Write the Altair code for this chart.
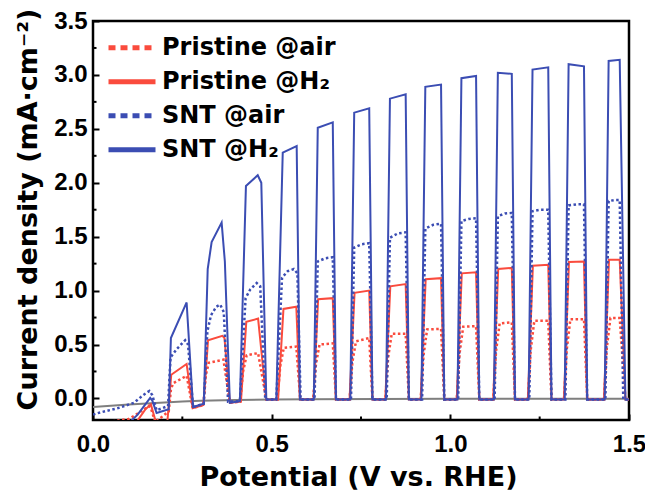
import altair as alt
import pandas as pd

# ---------------- data ----------------
SERIES = ["Pristine @air", "Pristine @H₂", "SNT @air", "SNT @H₂"]
COLORS = ["#FA4B3D", "#FA4B3D", "#3B4DB3", "#3B4DB3"]
LEGEND_DASHES = [[7, 5], [1, 0], [7, 5], [1, 0]]

X_TICKS = [0.0, 0.5, 1.0, 1.5]
X_MINOR = [0.25, 0.75, 1.25]
Y_TICKS = [0.0, 0.5, 1.0, 1.5, 2.0, 2.5, 3.0, 3.5]
Y_MINOR = [0.25, 0.75, 1.25, 1.75, 2.25, 2.75, 3.25]

# dark current (grey)
DARK_X = [0.0, 0.05, 0.1, 0.15, 0.2, 0.25, 0.3, 0.4, 0.5, 0.6, 0.8, 1.0, 1.5]
DARK_Y = [-0.08, -0.068, -0.057, -0.046, -0.037, -0.029, -0.022, -0.014, -0.009,
          -0.007, -0.005, -0.004, -0.003]

# SNT @H2 (blue solid)
SNT_H2_X = [0.090, 0.125, 0.160, 0.166, 0.178, 0.212,
            0.218, 0.262, 0.280, 0.310,
            0.321, 0.332, 0.360, 0.369, 0.383, 0.411,
            0.428, 0.461, 0.471, 0.485, 0.513,
            0.531, 0.570, 0.579, 0.618,
            0.629, 0.671, 0.680, 0.720,
            0.731, 0.773, 0.782, 0.820,
            0.831, 0.875, 0.884, 0.919,
            0.930, 0.974, 0.983, 1.020,
            1.031, 1.072, 1.081, 1.122,
            1.133, 1.172, 1.181, 1.219,
            1.230, 1.274, 1.283, 1.320,
            1.331, 1.374, 1.383, 1.432,
            1.443, 1.474, 1.490, 1.500]
SNT_H2_Y = [-0.26, -0.15, 0.005, -0.02, -0.135, -0.10,
            0.56, 0.89, -0.08, -0.05,
            1.20, 1.45, 1.63, 1.27, -0.04, -0.025,
            1.97, 2.07, 2.00, -0.01, -0.01,
            2.28, 2.34, -0.01, -0.01,
            2.51, 2.56, -0.01, -0.01,
            2.65, 2.69, -0.01, -0.01,
            2.78, 2.82, -0.01, -0.01,
            2.89, 2.91, -0.01, -0.01,
            2.97, 2.99, -0.01, -0.01,
            3.02, 3.01, -0.01, -0.01,
            3.05, 3.07, -0.01, -0.01,
            3.10, 3.08, -0.01, -0.01,
            3.13, 3.14, -0.01, -0.01]

# SNT @air (blue dotted)
SNT_AIR_X = [0.000, 0.020, 0.070, 0.115, 0.140, 0.158, 0.166, 0.178, 0.210,
             0.217, 0.235, 0.258, 0.266, 0.280, 0.310,
             0.320, 0.330, 0.345, 0.356, 0.366, 0.378, 0.411,
             0.427, 0.440, 0.458, 0.468, 0.482, 0.513,
             0.529, 0.545, 0.562, 0.572, 0.581, 0.620,
             0.629, 0.650, 0.671, 0.680, 0.722,
             0.731, 0.752, 0.773, 0.782, 0.822,
             0.831, 0.853, 0.875, 0.884, 0.921,
             0.930, 0.952, 0.974, 0.983, 1.022,
             1.031, 1.052, 1.072, 1.081, 1.124,
             1.133, 1.153, 1.172, 1.181, 1.221,
             1.230, 1.252, 1.274, 1.283, 1.322,
             1.331, 1.353, 1.374, 1.383, 1.434,
             1.443, 1.460, 1.474, 1.484, 1.500]
SNT_AIR_Y = [-0.15, -0.13, -0.09, -0.04, 0.03, 0.07, 0.03, -0.11, -0.07,
             0.38, 0.46, 0.54, 0.50, -0.08, -0.05,
             0.62, 0.77, 0.85, 0.87, 0.80, -0.03, -0.025,
             0.93, 1.01, 1.07, 1.04, -0.01, -0.01,
             1.12, 1.18, 1.20, 1.16, -0.01, -0.01,
             1.27, 1.30, 1.31, -0.01, -0.01,
             1.40, 1.43, 1.44, -0.01, -0.01,
             1.49, 1.53, 1.54, -0.01, -0.01,
             1.575, 1.61, 1.62, -0.01, -0.01,
             1.645, 1.665, 1.67, -0.01, -0.01,
             1.69, 1.715, 1.72, -0.01, -0.01,
             1.735, 1.75, 1.75, -0.01, -0.01,
             1.79, 1.80, 1.80, -0.01, -0.01,
             1.83, 1.84, 1.84, -0.01, -0.01]

# Pristine @H2 (red solid)
PRI_H2_X = [0.115, 0.147, 0.162, 0.176, 0.208,
            0.219, 0.262, 0.279, 0.309,
            0.322, 0.362, 0.368, 0.383, 0.414,
            0.429, 0.462, 0.485, 0.518,
            0.533, 0.569, 0.579, 0.617,
            0.630, 0.671, 0.680, 0.718,
            0.732, 0.773, 0.782, 0.818,
            0.832, 0.875, 0.884, 0.917,
            0.931, 0.974, 0.983, 1.018,
            1.032, 1.072, 1.081, 1.120,
            1.134, 1.172, 1.181, 1.217,
            1.231, 1.274, 1.283, 1.318,
            1.332, 1.374, 1.383, 1.430,
            1.444, 1.474, 1.490, 1.500]
PRI_H2_Y = [-0.25, -0.10, -0.055, -0.22, -0.22,
            0.22, 0.32, -0.09, -0.06,
            0.54, 0.58, 0.56, -0.04, -0.03,
            0.71, 0.74, -0.01, -0.01,
            0.83, 0.85, -0.01, -0.01,
            0.92, 0.93, -0.01, -0.01,
            0.98, 1.00, -0.01, -0.01,
            1.04, 1.06, -0.01, -0.01,
            1.105, 1.115, -0.01, -0.01,
            1.16, 1.17, -0.01, -0.01,
            1.20, 1.21, -0.01, -0.01,
            1.23, 1.24, -0.01, -0.01,
            1.265, 1.27, -0.01, -0.01,
            1.285, 1.285, -0.01, -0.01]

# Pristine @air (red dotted)
PRI_AIR_X = [0.040, 0.100, 0.128, 0.156, 0.162, 0.174, 0.212,
             0.218, 0.224, 0.262, 0.279, 0.309,
             0.316, 0.324, 0.365, 0.383, 0.412,
             0.420, 0.430, 0.462, 0.485, 0.516,
             0.524, 0.534, 0.569, 0.580, 0.616,
             0.624, 0.634, 0.671, 0.680, 0.718,
             0.726, 0.736, 0.773, 0.782, 0.818,
             0.826, 0.836, 0.875, 0.884, 0.917,
             0.925, 0.935, 0.974, 0.983, 1.018,
             1.026, 1.036, 1.072, 1.081, 1.120,
             1.128, 1.138, 1.172, 1.181, 1.217,
             1.225, 1.235, 1.274, 1.283, 1.318,
             1.326, 1.336, 1.374, 1.383, 1.430,
             1.438, 1.448, 1.474, 1.490, 1.500]
PRI_AIR_Y = [-0.22, -0.19, -0.135, -0.07, -0.09, -0.22, -0.12,
             0.08, 0.14, 0.21, -0.09, -0.06,
             0.22, 0.33, 0.36, -0.04, -0.03,
             0.25, 0.40, 0.42, -0.01, -0.01,
             0.30, 0.47, 0.48, -0.01, -0.01,
             0.32, 0.50, 0.51, -0.01, -0.01,
             0.34, 0.53, 0.56, -0.01, -0.01,
             0.38, 0.60, 0.60, -0.01, -0.01,
             0.40, 0.64, 0.645, -0.01, -0.01,
             0.42, 0.665, 0.67, -0.01, -0.01,
             0.44, 0.695, 0.705, -0.01, -0.01,
             0.45, 0.72, 0.72, -0.01, -0.01,
             0.46, 0.735, 0.735, -0.01, -0.01,
             0.47, 0.745, 0.745, -0.01, -0.01]


def frame(name, xs, ys):
    assert len(xs) == len(ys), name
    return pd.DataFrame({"x": xs, "y": ys, "i": list(range(len(xs))), "series": name})


W, H = 536, 399
LABEL_FONT = "Liberation Sans"
TITLE_FONT = "DejaVu Sans"

xscale = alt.Scale(domain=[0, 1.5], nice=False, zero=False)
yscale = alt.Scale(domain=[-0.2, 3.5], nice=False, zero=False)

xaxis = alt.Axis(values=X_TICKS, format=".1f", title="Potential (V vs. RHE)",
                 offset=-6, tickSize=6, tickWidth=2, tickColor="black",
                 domain=False, grid=False, labelFlush=False, labelOverlap=False,
                 labelFont=LABEL_FONT, labelFontSize=24, labelFontWeight="bold",
                 labelColor="black", labelPadding=12,
                 titleFont=TITLE_FONT, titleFontSize=27, titleFontWeight="bold",
                 titleColor="black", titleX=265, titleY=71, titleBaseline="alphabetic")
yaxis = alt.Axis(values=Y_TICKS, format=".1f", title="Current density (mA·cm⁻²)",
                 offset=-6, tickSize=6, tickWidth=2, tickColor="black",
                 domain=False, grid=False, labelFlush=False, labelOverlap=False,
                 labelFont=LABEL_FONT, labelFontSize=24, labelFontWeight="bold",
                 labelColor="black", labelPadding=6,
                 titleFont=TITLE_FONT, titleFontSize=27, titleFontWeight="bold",
                 titleColor="black", titleAngle=270, titleX=-63, titleY=188,
                 titleAlign="center", titleBaseline="alphabetic")

X = alt.X("x:Q", scale=xscale, axis=xaxis)
Y = alt.Y("y:Q", scale=yscale, axis=yaxis)


def series_layer(df, color, dash, width):
    kw = dict(color=color, strokeWidth=width, clip=True)
    if dash:
        kw["strokeDash"] = dash
    return alt.Chart(df).mark_line(**kw).encode(x=X, y=Y, order="i:Q")


dark = series_layer(frame("dark", DARK_X, DARK_Y), "#7F7F7F", None, 2)
pri_air = series_layer(frame(SERIES[0], PRI_AIR_X, PRI_AIR_Y), COLORS[0], [2.5, 2.5], 2.5)
pri_h2 = series_layer(frame(SERIES[1], PRI_H2_X, PRI_H2_Y), COLORS[1], None, 2)
snt_air = series_layer(frame(SERIES[2], SNT_AIR_X, SNT_AIR_Y), COLORS[2], [2.5, 2.5], 2.5)
snt_h2 = series_layer(frame(SERIES[3], SNT_H2_X, SNT_H2_Y), COLORS[3], None, 2)

xminor = alt.Chart(pd.DataFrame({"x": X_MINOR})).mark_rule(color="black", strokeWidth=2).encode(
    x=X, y=alt.value(H), y2=alt.value(H - 3.5))
yminor = alt.Chart(pd.DataFrame({"y": Y_MINOR})).mark_rule(color="black", strokeWidth=2).encode(
    y=Y, x=alt.value(0), x2=alt.value(3.5))

legend = alt.Legend(orient="none", legendX=13, legendY=10, title=None,
                    symbolType="stroke", symbolSize=2209, symbolStrokeWidth=5,
                    labelFont=TITLE_FONT, labelFontSize=24, labelFontWeight="bold",
                    labelColor="black", labelOffset=4, padding=0, rowPadding=0,
                    clipHeight=33.3, labelLimit=400)

legend_df = pd.DataFrame({"series": SERIES, "x": [0.0] * 4, "y": [0.0] * 4})
legend_layer = alt.Chart(legend_df).transform_filter("false").mark_line(strokeWidth=5).encode(
    x=X, y=Y,
    color=alt.Color("series:N", scale=alt.Scale(domain=SERIES, range=COLORS), legend=legend),
    strokeDash=alt.StrokeDash("series:N", scale=alt.Scale(domain=SERIES, range=LEGEND_DASHES),
                              legend=legend),
)

chart = alt.layer(dark, pri_air, pri_h2, snt_air, snt_h2, xminor, yminor, legend_layer).properties(
    width=W, height=H,
    autosize=alt.AutoSizeParams(type="none"),
    padding={"left": 85, "top": 13, "right": 16, "bottom": 70},
    background="white",
).configure_view(stroke="black", strokeWidth=2.5)

chart.save("out.html", embed_options={"renderer": "svg", "actions": False})
